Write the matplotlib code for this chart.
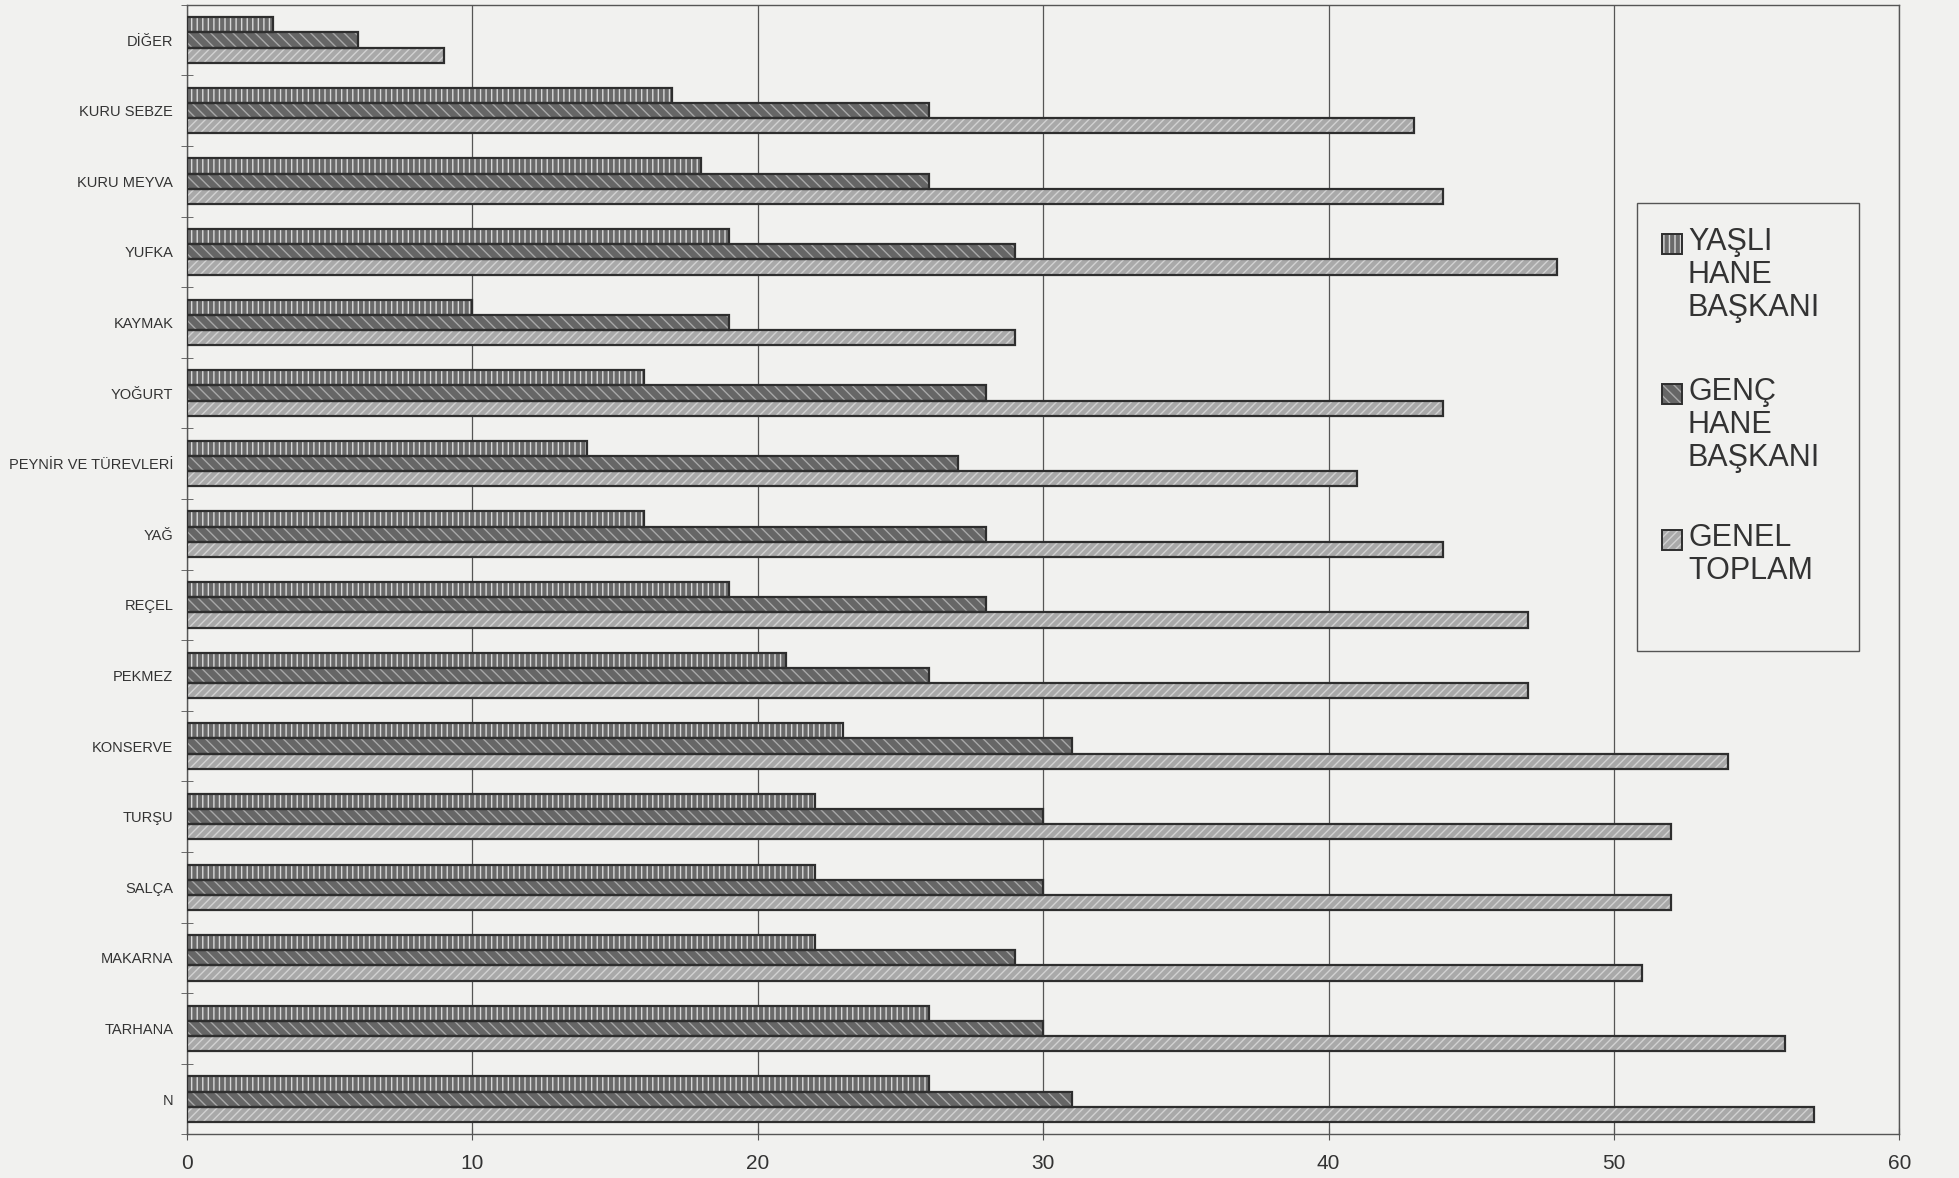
import matplotlib
matplotlib.use("Agg")
import matplotlib.pyplot as plt
import matplotlib.patches as mpatches
import numpy as np

categories = ["N", "TARHANA", "MAKARNA", "SALÇA", "TURŞU", "KONSERVE", "PEKMEZ",
              "REÇEL", "YAĞ", "PEYNİR VE TÜREVLERİ", "YOĞURT", "KAYMAK", "YUFKA",
              "KURU MEYVA", "KURU SEBZE", "DİĞER"]
yasli = [26, 26, 22, 22, 22, 23, 21, 19, 16, 14, 16, 10, 19, 18, 17, 3]
genc = [31, 30, 29, 30, 30, 31, 26, 28, 28, 27, 28, 19, 29, 26, 26, 6]
genel = [57, 56, 51, 52, 52, 54, 47, 47, 44, 41, 44, 29, 48, 44, 43, 9]
series_labels = ["YAŞLI\nHANE\nBAŞKANI", "GENÇ\nHANE\nBAŞKANI", "GENEL\nTOPLAM"]
xticks = [0, 10, 20, 30, 40, 50, 60]

plt.rcParams['font.family'] = ['Liberation Sans', 'DejaVu Sans']

W, H = 1959, 1178
bg = "#f1f1ef"
fig = plt.figure(figsize=(W / 100, H / 100), dpi=100, facecolor=bg)
ax = fig.add_axes([0.0955, 0.037, 0.874, 0.959])
ax.set_facecolor(bg)

y = np.arange(len(categories))
h = 0.215
styles = [
    (yasli, "#6a6a6a", "#d8d8d8", "|||"),
    (genc, "#666666", "#a8a8a8", "\\\\\\"),
    (genel, "#a9a9a9", "#d2d2d2", "////"),
]
offsets = [h, 0, -h]
for (vals, fc, hc, hatch), off in zip(styles, offsets):
    ax.barh(y + off, vals, height=h, color=fc, edgecolor=hc, hatch=hatch,
            linewidth=0, zorder=3)
    ax.barh(y + off, vals, height=h, facecolor="none", edgecolor="#2e2e2e",
            linewidth=1.6, zorder=4)

ax.set_xlim(0, 60)
ax.set_ylim(-0.5, len(categories) - 0.5)
ax.set_xticks(xticks)
ax.set_xticklabels([str(t) for t in xticks], fontsize=15, color="#333333")
ax.xaxis.grid(True, color="#555555", linewidth=0.9, zorder=1)
ax.tick_params(axis='x', direction='inout', length=8, color="#555555", pad=10)

ax.set_yticks(y)
ax.set_yticklabels(categories, fontsize=10.5, color="#333333")
ax.tick_params(axis='y', which='major', length=0, pad=10)
ax.set_yticks(np.arange(-0.5, len(categories), 1.0), minor=True)
ax.tick_params(axis='y', which='minor', direction='inout', length=8, color="#555555")

for s in ax.spines.values():
    s.set_color("#555555")
    s.set_linewidth(1.0)

# legend drawn manually (box, swatches, multi-line labels)
def fx(px):
    return px / W

def fy(py):
    return 1 - py / H

frame = mpatches.Rectangle((fx(1637), fy(651)), fx(1859) - fx(1637), fy(203) - fy(651),
                           transform=fig.transFigure, facecolor=bg, edgecolor="#555555",
                           linewidth=1.0, zorder=10)
fig.patches.append(frame)
sw = 20
entries_y = [244, 394, 540]
for (vals, fc, hc, hatch), lab, cy in zip(styles, series_labels, entries_y):
    sq_fill = mpatches.Rectangle((fx(1662), fy(cy + sw / 2)), sw / W, sw / H,
                                 transform=fig.transFigure, facecolor=fc, edgecolor=hc,
                                 hatch=hatch, linewidth=0, zorder=11)
    sq_edge = mpatches.Rectangle((fx(1662), fy(cy + sw / 2)), sw / W, sw / H,
                                 transform=fig.transFigure, facecolor="none",
                                 edgecolor="#2e2e2e", linewidth=1.4, zorder=12)
    fig.patches.append(sq_fill)
    fig.patches.append(sq_edge)
    fig.text(fx(1688), fy(cy - 17), lab, fontsize=22, color="#333333",
             va='top', ha='left', linespacing=1.13, zorder=12)

fig.savefig("out.png", dpi=100, facecolor=bg)
